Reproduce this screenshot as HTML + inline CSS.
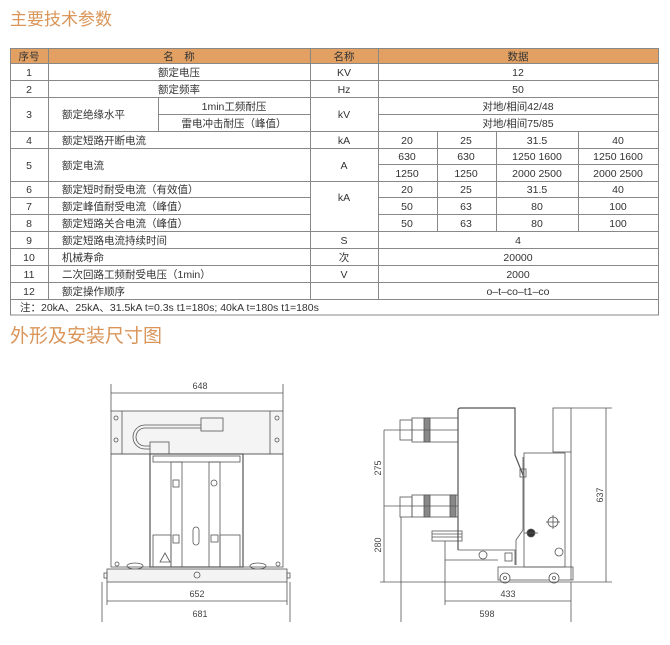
<!DOCTYPE html>
<html><head><meta charset="utf-8"><style>
html,body{margin:0;padding:0;background:#fff;width:670px;height:645px;overflow:hidden}
svg{display:block}
text{font-family:"Liberation Sans","Noto Sans CJK SC",sans-serif;fill:#333}
.t{font-size:10.5px}
.h{font-family:"Noto Sans CJK SC","WenQuanYi Zen Hei",sans-serif;fill:#d9955a;font-size:17px}
.d{font-size:9px;fill:#444}
</style></head><body>
<svg width="670" height="645" viewBox="0 0 670 645">
<text class="h" x="10" y="25">主要技术参数</text>
<!-- table -->
<rect x="10" y="48" width="648" height="15" fill="#e2a062"/>
<g stroke="#888" stroke-width="1" fill="none">
<rect x="10.5" y="48.5" width="648" height="266.5"/>
<line x1="48.5" y1="48" x2="48.5" y2="299"/>
<line x1="310.5" y1="48" x2="310.5" y2="299"/>
<line x1="378.5" y1="48" x2="378.5" y2="299"/>
<line x1="158.5" y1="97" x2="158.5" y2="131"/>
<line x1="158" y1="114.5" x2="310" y2="114.5"/>
<line x1="378" y1="114.5" x2="658" y2="114.5"/>
<line x1="437.5" y1="131" x2="437.5" y2="231"/>
<line x1="496.5" y1="131" x2="496.5" y2="231"/>
<line x1="578.5" y1="131" x2="578.5" y2="231"/>
<line x1="378" y1="164.5" x2="658" y2="164.5"/>
<line x1="10" y1="63.5" x2="658" y2="63.5"/>
<line x1="10" y1="80.5" x2="658" y2="80.5"/>
<line x1="10" y1="97.5" x2="658" y2="97.5"/>
<line x1="10" y1="131.5" x2="658" y2="131.5"/>
<line x1="10" y1="148.5" x2="658" y2="148.5"/>
<line x1="10" y1="181.5" x2="658" y2="181.5"/>
<line x1="10" y1="197.5" x2="310" y2="197.5"/>
<line x1="378" y1="197.5" x2="658" y2="197.5"/>
<line x1="10" y1="214.5" x2="310" y2="214.5"/>
<line x1="378" y1="214.5" x2="658" y2="214.5"/>
<line x1="10" y1="231.5" x2="658" y2="231.5"/>
<line x1="10" y1="248.5" x2="658" y2="248.5"/>
<line x1="10" y1="265.5" x2="658" y2="265.5"/>
<line x1="10" y1="282.5" x2="658" y2="282.5"/>
<line x1="10" y1="299.5" x2="658" y2="299.5"/>
</g>
<g class="t" text-anchor="middle">
<text x="29" y="60">序号</text><text x="179" y="60">名　称</text><text x="344" y="60">名称</text><text x="518" y="60">数据</text>
<text x="29" y="76">1</text><text x="179" y="76">额定电压</text><text x="344" y="76">KV</text><text x="518" y="76">12</text>
<text x="29" y="93">2</text><text x="179" y="93">额定频率</text><text x="344" y="93">Hz</text><text x="518" y="93">50</text>
<text x="29" y="118">3</text><text x="234" y="110">1min工频耐压</text><text x="234" y="127">雷电冲击耐压（峰值）</text><text x="344" y="118">kV</text><text x="518" y="110">对地/相间42/48</text><text x="518" y="127">对地/相间75/85</text>
<text x="29" y="144">4</text><text x="344" y="144">kA</text><text x="407" y="144">20</text><text x="466" y="144">25</text><text x="537" y="144">31.5</text><text x="618" y="144">40</text>
<text x="29" y="169">5</text><text x="344" y="169">A</text>
<text x="407" y="160">630</text><text x="466" y="160">630</text><text x="537" y="160">1250 1600</text><text x="618" y="160">1250 1600</text>
<text x="407" y="177">1250</text><text x="466" y="177">1250</text><text x="537" y="177">2000 2500</text><text x="618" y="177">2000 2500</text>
<text x="29" y="193">6</text><text x="29" y="210">7</text><text x="29" y="227">8</text><text x="344" y="201">kA</text>
<text x="407" y="193">20</text><text x="466" y="193">25</text><text x="537" y="193">31.5</text><text x="618" y="193">40</text>
<text x="407" y="210">50</text><text x="466" y="210">63</text><text x="537" y="210">80</text><text x="618" y="210">100</text>
<text x="407" y="227">50</text><text x="466" y="227">63</text><text x="537" y="227">80</text><text x="618" y="227">100</text>
<text x="29" y="244">9</text><text x="344" y="244">S</text><text x="518" y="244">4</text>
<text x="29" y="261">10</text><text x="344" y="261">次</text><text x="518" y="261">20000</text>
<text x="29" y="278">11</text><text x="344" y="278">V</text><text x="518" y="278">2000</text>
<text x="29" y="295">12</text><text x="518" y="295">o–t–co–t1–co</text>
</g>
<g class="t">
<text x="62" y="118">额定绝缘水平</text>
<text x="62" y="144">额定短路开断电流</text>
<text x="62" y="169">额定电流</text>
<text x="62" y="193">额定短时耐受电流（有效值）</text>
<text x="62" y="210">额定峰值耐受电流（峰值）</text>
<text x="62" y="227">额定短路关合电流（峰值）</text>
<text x="62" y="244">额定短路电流持续时间</text>
<text x="62" y="261">机械寿命</text>
<text x="62" y="278">二次回路工频耐受电压（1min）</text>
<text x="62" y="295">额定操作顺序</text>
<text x="20" y="311">注：20kA、25kA、31.5kA  t=0.3s t1=180s; 40kA t=180s t1=180s</text>
</g>
<text class="h" x="10" y="342" style="font-size:19px">外形及安装尺寸图</text>

<!-- left drawing -->
<g stroke="#555" stroke-width="0.8" fill="none">
<line x1="111" y1="384" x2="111" y2="411"/><line x1="283" y1="384" x2="283" y2="411"/>
<line x1="111" y1="393" x2="283" y2="393"/>
<rect x="111" y="411" width="172" height="43" fill="#f4f4f4"/>
<line x1="122" y1="411" x2="122" y2="454"/><line x1="270" y1="411" x2="270" y2="454"/>
<circle cx="116" cy="418" r="2"/><circle cx="116" cy="440" r="2"/><circle cx="277" cy="418" r="2"/><circle cx="277" cy="440" r="2"/>
<rect x="201" y="418" width="22" height="13"/>
<path d="M201 425 H145 A12 12 0 0 0 145 449 H150"/>
<path d="M201 428 H145 A9 9 0 0 0 145 446 H150"/>
<rect x="150" y="442" width="19" height="12"/>
<rect x="111" y="454" width="172" height="113"/>
<rect x="150" y="454" width="93" height="113" stroke-width="1.2"/>
<rect x="153" y="456" width="87" height="6"/>
<rect x="171" y="462" width="11" height="105"/><rect x="209" y="462" width="11" height="105"/>
<rect x="173" y="480" width="6" height="7"/><circle cx="214" cy="483" r="3"/>
<rect x="173" y="535" width="6" height="8"/><rect x="211" y="535" width="7" height="7"/>
<rect x="153" y="535" width="18" height="32"/><rect x="220" y="535" width="20" height="32"/>
<rect x="193" y="527" width="6" height="18" rx="3"/>
<path d="M160 562 L165 553 L170 562 Z"/>
<ellipse cx="135" cy="566" rx="8" ry="3"/><ellipse cx="258" cy="566" rx="8" ry="3"/>
<circle cx="117" cy="564" r="2"/><circle cx="278" cy="564" r="2"/>
<rect x="107" y="569" width="180" height="13" fill="#f4f4f4"/>
<rect x="104" y="573" width="3" height="5"/><rect x="287" y="573" width="3" height="5"/>
<circle cx="197" cy="575" r="3"/>
<line x1="107" y1="582" x2="107" y2="605"/><line x1="287" y1="582" x2="287" y2="605"/>
<line x1="107" y1="601" x2="287" y2="601"/>
<line x1="102" y1="582" x2="102" y2="622"/><line x1="290" y1="582" x2="290" y2="622"/>
</g>
<text class="d" x="200" y="389" text-anchor="middle">648</text>
<text class="d" x="197" y="597" text-anchor="middle">652</text>
<text class="d" x="200" y="617" text-anchor="middle">681</text>

<!-- right drawing -->
<g stroke="#555" stroke-width="0.8" fill="none">
<path d="M458 550 V410 Q458 408 461 408 H515 V455 L523 475" stroke-width="1.2"/>
<path d="M458 550 H515 V565"/>
<rect x="553" y="408" width="18" height="44"/>
<line x1="571" y1="452" x2="571" y2="580"/>
<rect x="524" y="453" width="41" height="114"/>
<path d="M523 457 V530 L516 540 V565"/>
<rect x="520" y="469" width="6" height="8"/>
<circle cx="553" cy="522" r="5"/><line x1="546" y1="522" x2="560" y2="522"/><line x1="553" y1="515" x2="553" y2="529"/>
<circle cx="531" cy="533" r="4" fill="#333"/><line x1="524" y1="533" x2="538" y2="533"/>
<circle cx="559" cy="552" r="4"/>
<rect x="498" y="567" width="75" height="13"/>
<circle cx="505" cy="578" r="5" fill="#fff"/><circle cx="505" cy="578" r="1.5"/>
<circle cx="554" cy="578" r="5" fill="#fff"/><circle cx="554" cy="578" r="1.5"/>
<rect x="400" y="420" width="12" height="20"/><rect x="412" y="418" width="46" height="24"/>
<rect x="424" y="418" width="6" height="24" fill="#888"/>
<rect x="400" y="497" width="12" height="20"/><rect x="412" y="495" width="46" height="22"/>
<rect x="424" y="495" width="6" height="22" fill="#888"/><rect x="450" y="495" width="6" height="22" fill="#888"/>
<rect x="432" y="531" width="30" height="10"/>
<line x1="432" y1="534" x2="462" y2="534"/><line x1="432" y1="537" x2="462" y2="537"/>
<circle cx="483" cy="555" r="4"/><rect x="505" y="553" width="7" height="8"/>
<line x1="445" y1="560" x2="498" y2="560"/>
<line x1="384" y1="430" x2="458" y2="430"/><line x1="384" y1="506" x2="458" y2="506"/>
<line x1="384" y1="430" x2="384" y2="582"/>
<line x1="380" y1="582" x2="612" y2="582"/>
<line x1="571" y1="408" x2="612" y2="408"/>
<line x1="606" y1="408" x2="606" y2="582"/>
<line x1="445" y1="541" x2="445" y2="605"/><line x1="571" y1="582" x2="571" y2="622"/>
<line x1="445" y1="601" x2="571" y2="601"/>
<line x1="401" y1="517" x2="401" y2="622"/>
</g>
<text class="d" transform="translate(381 468) rotate(-90)" text-anchor="middle">275</text>
<text class="d" transform="translate(381 545) rotate(-90)" text-anchor="middle">280</text>
<text class="d" transform="translate(603 495) rotate(-90)" text-anchor="middle">637</text>
<text class="d" x="508" y="597" text-anchor="middle">433</text>
<text class="d" x="487" y="617" text-anchor="middle">598</text>
</svg>
</body></html>
